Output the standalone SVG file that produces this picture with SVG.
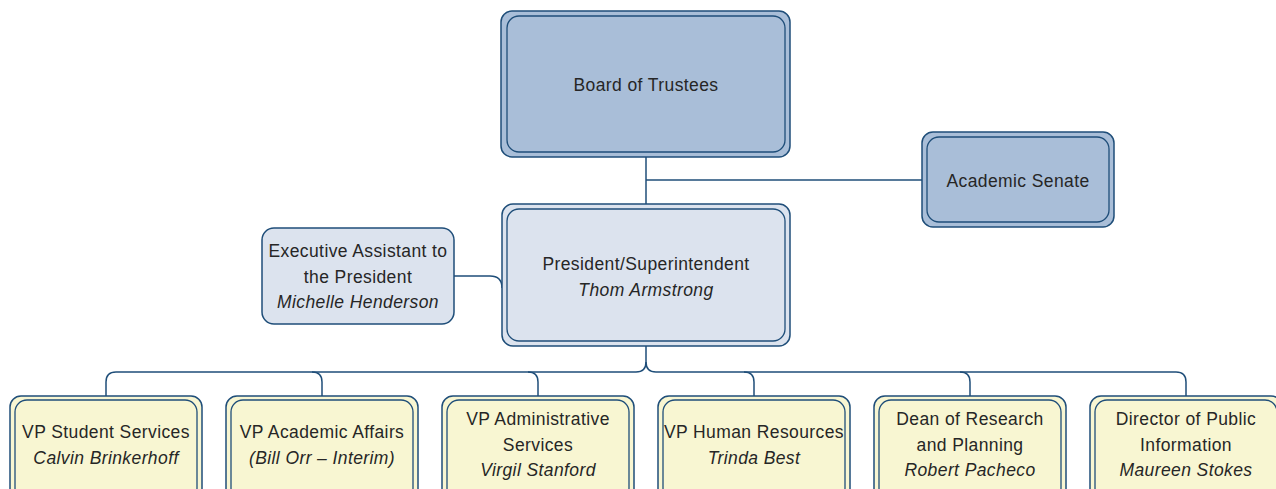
<svg xmlns="http://www.w3.org/2000/svg" width="1276" height="489" viewBox="0 0 1276 489">
  <style>
    .edge { fill: none; stroke: #1f4e79; stroke-width: 1.5; }
    .outer { stroke: #1f4e79; stroke-width: 1.5; }
    .inner { stroke: #1f4e79; stroke-width: 1.3; }
    .top { fill: #a9bed8; }
    .mid { fill: #dce3ee; }
    .unit { fill: #f8f6d2; }
    text { font-family: "Liberation Sans", "DejaVu Sans", sans-serif; font-size: 17.5px; letter-spacing: 0.4px; fill: #262626; text-anchor: middle; }
    .name { font-style: italic; }
  </style>
  <rect width="1276" height="489" fill="#ffffff"/>

  <!-- connectors -->
  <g id="connectors">
    <path class="edge" d="M646,157 V204"/>
    <path class="edge" d="M646,180 H922"/>
    <path class="edge" d="M454,276 H490 Q502,276 502,288"/>
    <path class="edge" d="M646,346 V362 Q646,372 636,372 H116 Q106,372 106,382 V396"/>
    <path class="edge" d="M646,362 Q646,372 656,372 H1176 Q1186,372 1186,382 V396"/>
    <path class="edge" d="M312,372 Q322,372 322,382 V396"/>
    <path class="edge" d="M528,372 Q538,372 538,382 V396"/>
    <path class="edge" d="M744,372 Q754,372 754,382 V396"/>
    <path class="edge" d="M960,372 Q970,372 970,382 V396"/>
  </g>

  <g id="board">
    <rect class="outer top" x="501" y="11" width="289" height="146" rx="11"/>
    <rect class="inner top" x="507" y="16" width="278" height="136" rx="12"/>
    <text x="646" y="91">Board of Trustees</text>
  </g>

  <g id="senate">
    <rect class="outer top" x="922" y="132" width="192" height="95" rx="11"/>
    <rect class="inner top" x="927" y="137" width="182" height="85" rx="12"/>
    <text x="1018" y="187">Academic Senate</text>
  </g>

  <g id="president">
    <rect class="outer mid" x="502" y="204" width="288" height="142" rx="11"/>
    <rect class="inner mid" x="507" y="209" width="278" height="132" rx="12"/>
    <text x="646" y="270">President/Superintendent</text>
    <text class="name" x="646" y="296">Thom Armstrong</text>
  </g>

  <g id="exec-assistant">
    <rect class="outer mid" x="262" y="228" width="192" height="96" rx="12"/>
    <text x="358" y="257">Executive Assistant to</text>
    <text x="358" y="283">the President</text>
    <text class="name" x="358" y="308">Michelle Henderson</text>
  </g>

  <g id="vp-student">
    <rect class="outer unit" x="10" y="396" width="192" height="110" rx="11"/>
    <rect class="inner unit" x="15" y="400" width="182" height="100" rx="12"/>
    <text x="106" y="438">VP Student Services</text>
    <text class="name" x="106" y="464">Calvin Brinkerhoff</text>
  </g>

  <g id="vp-academic">
    <rect class="outer unit" x="226" y="396" width="192" height="110" rx="11"/>
    <rect class="inner unit" x="231" y="400" width="182" height="100" rx="12"/>
    <text x="322" y="438">VP Academic Affairs</text>
    <text class="name" x="322" y="464">(Bill Orr – Interim)</text>
  </g>

  <g id="vp-admin">
    <rect class="outer unit" x="442" y="396" width="192" height="110" rx="11"/>
    <rect class="inner unit" x="447" y="400" width="182" height="100" rx="12"/>
    <text x="538" y="425">VP Administrative</text>
    <text x="538" y="451">Services</text>
    <text class="name" x="538" y="476">Virgil Stanford</text>
  </g>

  <g id="vp-hr">
    <rect class="outer unit" x="658" y="396" width="192" height="110" rx="11"/>
    <rect class="inner unit" x="663" y="400" width="182" height="100" rx="12"/>
    <text x="754" y="438">VP Human Resources</text>
    <text class="name" x="754" y="464">Trinda Best</text>
  </g>

  <g id="dean-research">
    <rect class="outer unit" x="874" y="396" width="192" height="110" rx="11"/>
    <rect class="inner unit" x="879" y="400" width="182" height="100" rx="12"/>
    <text x="970" y="425">Dean of Research</text>
    <text x="970" y="451">and Planning</text>
    <text class="name" x="970" y="476">Robert Pacheco</text>
  </g>

  <g id="public-info">
    <rect class="outer unit" x="1090" y="396" width="192" height="110" rx="11"/>
    <rect class="inner unit" x="1095" y="400" width="182" height="100" rx="12"/>
    <text x="1186" y="425">Director of Public</text>
    <text x="1186" y="451">Information</text>
    <text class="name" x="1186" y="476">Maureen Stokes</text>
  </g>
</svg>
